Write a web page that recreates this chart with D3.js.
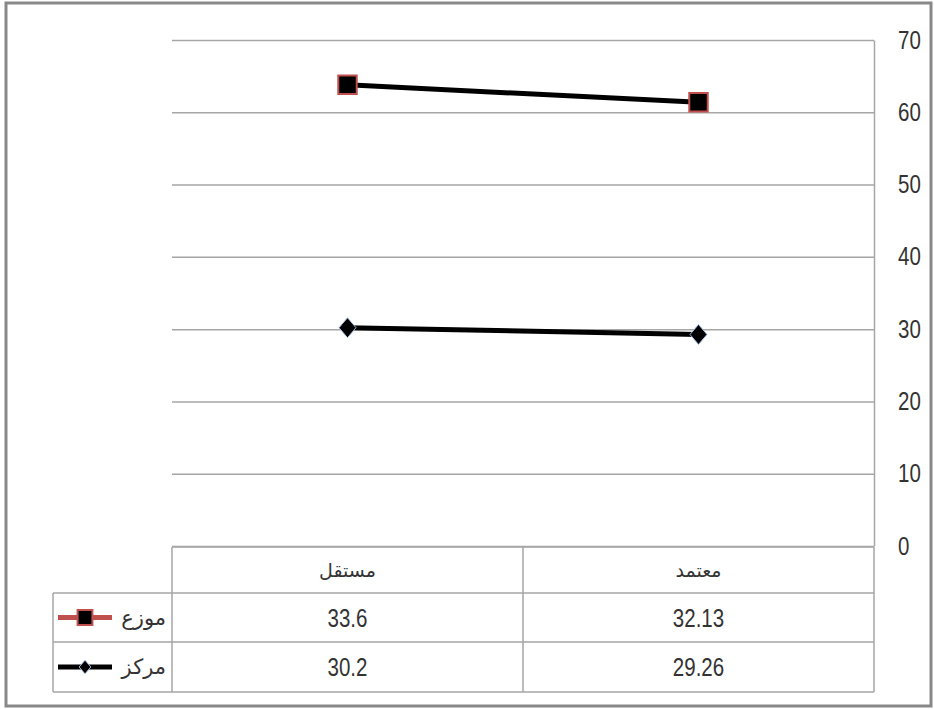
<!DOCTYPE html>
<html>
<head>
<meta charset="utf-8">
<script src="https://cdn.jsdelivr.net/npm/d3@7"></script>
<style>
  body { margin: 0; background: #fff; }
  text { font-family: "Liberation Sans", Arial, sans-serif; fill: #333; }
  .ar { font-family: "DejaVu Sans", sans-serif; }
</style>
</head>
<body>
<script>
// data
var categories = ["مستقل", "معتمد"];
var seriesKeys = ["markaz", "muwazza"];
var seriesNames = {markaz: "مركز", muwazza: "موزع"};
var markaz = [30.2, 29.26];
var muwazza = [33.6, 32.13];
var yTicks = [0, 10, 20, 30, 40, 50, 60, 70];

var W = 934, H = 709;
var plotLeft = 172, plotRight = 874, plotTop = 40, plotBottom = 546; // plot box
var rowH = [547, 593, 642, 692]; // table row edges
var legendLeft = 53;
var squeeze = " scale(0.82,1)"; // fake a condensed face

var svg = d3.select("body").append("svg")
  .attr("width", W)
  .attr("height", H);

svg.append("rect").attr("width", W).attr("height", H).attr("fill", "#fff");

var x = d3.scaleBand().domain(categories).range([plotLeft, plotRight]);
var y = d3.scaleLinear().domain([0, 70]).range([plotBottom, plotTop]);
var cx = function(c) { return x(c) + x.bandwidth() / 2; };

// stacked line -> plot the cumulative top of each layer
var rows = categories.map(function(c, i) {
  return {cat: c, markaz: markaz[i], muwazza: muwazza[i]};
});
var stacked = d3.stack().keys(seriesKeys)(rows);

// gridlines
var grid = svg.append("g")
  .attr("transform", "translate(" + plotRight + ",0)")
  .call(d3.axisLeft(y).tickValues(yTicks).tickSize(plotRight - plotLeft).tickFormat(""));
grid.select(".domain").remove();
grid.selectAll("line").attr("stroke", "#a6a6a6").attr("stroke-width", 1.5);

// right axis
var ax = svg.append("g")
  .attr("transform", "translate(" + plotRight + ",0)")
  .call(d3.axisRight(y).tickValues(yTicks).tickSize(0).tickPadding(24));
ax.select(".domain").attr("stroke", "#a6a6a6").attr("stroke-width", 1.5);
ax.selectAll("text")
  .attr("x", 0)
  .attr("transform", "translate(24,0)" + squeeze)
  .attr("font-size", 25)
  .attr("font-family", null)
  .attr("fill", "#333");

// lines
var line = d3.line()
  .x(function(d) { return cx(d.data.cat); })
  .y(function(d) { return y(d[1]); });

svg.selectAll(".series")
  .data(stacked)
  .enter().append("path")
  .attr("d", line)
  .attr("fill", "none")
  .attr("stroke", "#000")
  .attr("stroke-width", 5);

// markers
function marker(sel, key, size) {
  if (key === "muwazza") {
    sel.attr("d", d3.symbol(d3.symbolSquare).size(size)())
      .attr("fill", "#000").attr("stroke", "#c0504d").attr("stroke-width", 2);
  } else {
    sel.attr("d", d3.symbol(d3.symbolDiamond2).size(size)())
      .attr("fill", "#000").attr("stroke", "#a9c4ee").attr("stroke-width", 1);
  }
}

stacked.forEach(function(layer) {
  svg.selectAll(".m-" + layer.key)
    .data(layer)
    .enter().append("path")
    .attr("transform", function(d) {
      var s = layer.key === "markaz" ? " scale(0.85,1)" : "";
      return "translate(" + cx(d.data.cat) + "," + y(d[1]) + ")" + s;
    })
    .call(marker, layer.key, layer.key === "muwazza" ? 340 : 255);
});

// data table
var tbl = svg.append("g").attr("stroke", "#a6a6a6").attr("stroke-width", 1.5);
tbl.append("line").attr("x1", plotLeft).attr("x2", plotRight).attr("y1", rowH[0]).attr("y2", rowH[0]);
[1, 2, 3].forEach(function(i) {
  tbl.append("line").attr("x1", legendLeft).attr("x2", plotRight).attr("y1", rowH[i]).attr("y2", rowH[i]);
});
tbl.append("line").attr("x1", legendLeft).attr("x2", legendLeft).attr("y1", rowH[1]).attr("y2", rowH[3]);
categories.forEach(function(c) {
  tbl.append("line").attr("x1", x(c)).attr("x2", x(c)).attr("y1", rowH[0]).attr("y2", rowH[3]);
});
tbl.append("line").attr("x1", plotRight).attr("x2", plotRight).attr("y1", rowH[0]).attr("y2", rowH[3]);

// header
svg.selectAll(".cat")
  .data(categories)
  .enter().append("text")
  .attr("class", "ar")
  .attr("x", cx)
  .attr("y", (rowH[0] + rowH[1]) / 2)
  .attr("dy", "0.35em")
  .attr("text-anchor", "middle")
  .attr("font-size", 19)
  .attr("fill", "#111")
  .text(function(d) { return d; });

// rows: موزع first, then مركز
var tableOrder = ["muwazza", "markaz"];
var values = {markaz: markaz, muwazza: muwazza};
tableOrder.forEach(function(key, r) {
  var yc = (rowH[r + 1] + rowH[r + 2]) / 2;
  categories.forEach(function(c, i) {
    svg.append("text")
      .attr("transform", "translate(" + cx(c) + "," + yc + ")" + squeeze)
      .attr("dy", "0.36em")
      .attr("text-anchor", "middle")
      .attr("font-size", 25)
      .text(values[key][i]);
  });
  // legend key
  var lc = key === "muwazza" ? "#c0504d" : "#000";
  svg.append("line")
    .attr("x1", 58).attr("x2", 112).attr("y1", yc).attr("y2", yc)
    .attr("stroke", lc).attr("stroke-width", 5);
  svg.append("path")
    .attr("transform", "translate(85," + yc + ")" + (key === "markaz" ? " scale(0.85,1)" : ""))
    .call(marker, key, key === "muwazza" ? 220 : 120);
  svg.append("text")
    .attr("class", "ar")
    .attr("x", 166)
    .attr("y", yc)
    .attr("dy", "0.35em")
    .attr("text-anchor", "end")
    .attr("font-size", 21)
    .text(seriesNames[key]);
});

// outer frame
svg.append("rect")
  .attr("x", 6).attr("y", 3)
  .attr("width", 925).attr("height", 703)
  .attr("fill", "none")
  .attr("stroke", "#888")
  .attr("stroke-width", 3);
</script>
</body>
</html>
